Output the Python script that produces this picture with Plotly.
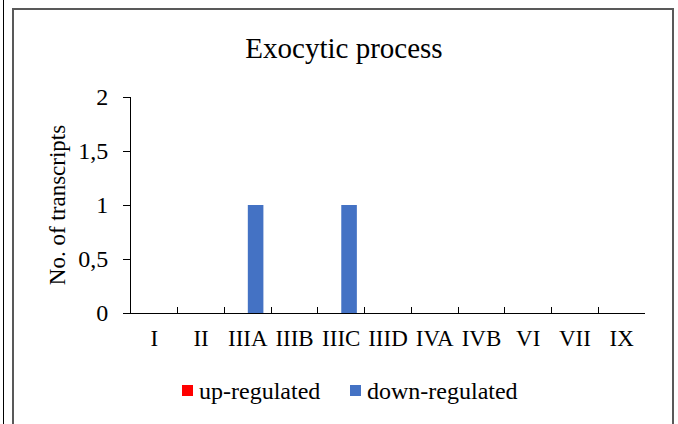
import plotly.graph_objects as go

categories = ["I", "II", "IIIA", "IIIB", "IIIC", "IIID", "IVA", "IVB", "VI", "VII", "IX"]
up_regulated = [0, 0, 0, 0, 0, 0, 0, 0, 0, 0, 0]
down_regulated = [0, 0, 1, 0, 1, 0, 0, 0, 0, 0, 0]
y_ticks = [0, 0.5, 1, 1.5, 2]
series_names = ["up-regulated", "down-regulated"]
series_colors = ["#FF0000", "#4472C4"]

W, H = 678, 424
L, R, T, B = 131, 645, 97, 313  # plot area in pixels


def px(x):
    return (x - L) / (R - L)


def py(y):
    return (B - y) / (B - T)


FONT = "Liberation Serif, Times New Roman, serif"

fig = go.Figure()
for name, vals, col in zip(series_names, [up_regulated, down_regulated], series_colors):
    fig.add_trace(go.Bar(name=name, x=categories, y=vals, showlegend=False,
                         marker=dict(color=col, line=dict(width=0))))

shapes = [
    # outer chart frame
    dict(type="rect", xref="paper", yref="paper",
         x0=px(13), x1=px(673), y0=py(440), y1=py(9),
         line=dict(color="#595959", width=2), fillcolor="rgba(0,0,0,0)", layer="below"),
    # thin line at the far left edge
    dict(type="line", xref="paper", yref="paper",
         x0=px(3.5), x1=px(3.5), y0=py(0), y1=py(440),
         line=dict(color="#000000", width=1)),
]

# legend: colour key squares followed by their labels
annotations = []
legend_y = 391
key_x = [182, 350]
for name, col, kx in zip(series_names, series_colors, key_x):
    shapes.append(dict(type="rect", xref="paper", yref="paper",
                       x0=px(kx), x1=px(kx + 11), y0=py(legend_y + 5), y1=py(legend_y - 6),
                       line=dict(width=0), fillcolor=col))
    annotations.append(dict(text=name, xref="paper", yref="paper",
                            x=px(kx + 15), y=py(legend_y), xanchor="left", yanchor="middle",
                            showarrow=False,
                            font=dict(family=FONT, size=24, color="#000000")))

fig.update_layout(
    width=W, height=H,
    margin=dict(l=L, r=W - R, t=T, b=H - B, pad=0),
    paper_bgcolor="white", plot_bgcolor="white",
    separators=",.",
    barmode="group", bargap=0.333, bargroupgap=0,
    font=dict(family=FONT, size=24, color="#000000"),
    title=dict(text="Exocytic process", x=344 / W, xanchor="center",
               y=1 - 48 / H, yanchor="middle", yref="container",
               font=dict(family=FONT, size=29, color="#000000")),
    xaxis=dict(type="category", showline=True, linecolor="#000000", linewidth=1,
               ticks="inside", ticklen=6, tickcolor="#000000", tickwidth=1,
               tickson="boundaries", showgrid=False, zeroline=False,
               tickangle=0,
               tickfont=dict(family=FONT, size=23, color="#000000"),
               ticklabelstandoff=4),
    yaxis=dict(range=[0, 2], tickvals=y_ticks, showline=True, linecolor="#000000",
               linewidth=1, ticks="outside", ticklen=7, tickcolor="#000000",
               showgrid=False, zeroline=False,
               tickfont=dict(family=FONT, size=24, color="#000000"),
               ticklabelstandoff=10,
               title=dict(text="No. of transcripts", standoff=6,
                          font=dict(family=FONT, size=23, color="#000000"))),
    showlegend=False,
    shapes=shapes,
    annotations=annotations,
)

fig.write_html("out.html")
